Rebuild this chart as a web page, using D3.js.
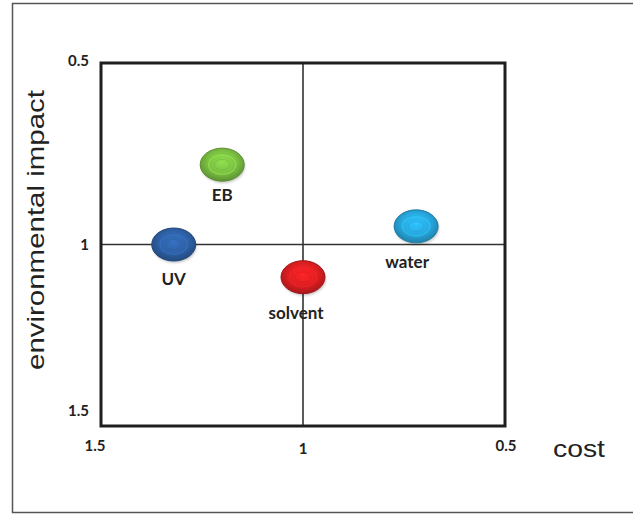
<!DOCTYPE html>
<html>
<head>
<meta charset="utf-8">
<script src="https://cdn.jsdelivr.net/npm/d3@7/dist/d3.min.js"></script>
<style>
  html, body { margin: 0; padding: 0; background: #fff; }
  svg { display: block; }
</style>
</head>
<body>
<div id="chart"></div>
<script>
// Technologies placed by cost (x, reversed) and environmental impact (y, reversed)
const technologies = ["EB", "UV", "solvent", "water"];
const costValues = [1.2, 1.32, 1.0, 0.72];
const impactValues = [0.78, 1.0, 1.09, 0.95];
const pointColors = ["#7cc243", "#2f62a8", "#e11f22", "#28aae1"];
const xTickValues = [1.5, 1, 0.5];
const yTickValues = [0.5, 1, 1.5];

const W = 633, H = 514;
const svg = d3.select("#chart").append("svg")
  .attr("width", W).attr("height", H);

// outer frame
svg.append("path")
  .attr("d", `M${W + 5},3.5 H12.5 V512.5 H${W + 5}`)
  .attr("fill", "none").attr("stroke", "#555").attr("stroke-width", 1.5);

const plot = { left: 101, right: 505, top: 63, bottom: 426 };

const x = d3.scaleLinear().domain([1.5, 0.5]).range([plot.left, plot.right]);
const y = d3.scaleLinear().domain([0.5, 1.5]).range([plot.top, plot.bottom]);

// gradients for the glossy markers
const defs = svg.append("defs");
pointColors.forEach((c, i) => {
  const base = d3.color(c);
  const g = defs.append("radialGradient")
    .attr("id", "grad" + i)
    .attr("cx", "50%").attr("cy", "42%").attr("r", "58%");
  g.append("stop").attr("offset", "0%").attr("stop-color", base.brighter(0.4));
  g.append("stop").attr("offset", "55%").attr("stop-color", base);
  g.append("stop").attr("offset", "100%").attr("stop-color", base.darker(0.8));
});
const blur = defs.append("filter").attr("id", "soft")
  .attr("x", "-20%").attr("y", "-20%").attr("width", "140%").attr("height", "140%");
blur.append("feGaussianBlur").attr("stdDeviation", 0.8);

// quadrant lines through (1, 1)
svg.append("line")
  .attr("x1", x(1)).attr("x2", x(1))
  .attr("y1", plot.top).attr("y2", plot.bottom)
  .attr("stroke", "#333").attr("stroke-width", 1.6);
svg.append("line")
  .attr("x1", plot.left).attr("x2", plot.right)
  .attr("y1", y(1)).attr("y2", y(1))
  .attr("stroke", "#333").attr("stroke-width", 1.6);

// plot box
svg.append("rect")
  .attr("x", plot.left).attr("y", plot.top)
  .attr("width", plot.right - plot.left).attr("height", plot.bottom - plot.top)
  .attr("fill", "none").attr("stroke", "#1e1e1e").attr("stroke-width", 3);

// tick labels
const tickFont = "Lato, 'Open Sans', sans-serif";
svg.append("g").selectAll("text")
  .data(yTickValues).join("text")
  .attr("x", 89)
  .attr("y", d => y(d) + (d === 1.5 ? -14 : d === 0.5 ? -1 : 2))
  .attr("text-anchor", "end")
  .attr("dominant-baseline", "middle")
  .attr("font-family", tickFont).attr("font-weight", "bold")
  .attr("font-size", 15).attr("fill", "#222")
  .text(d => d);

svg.append("g").selectAll("text")
  .data(xTickValues).join("text")
  .attr("x", d => x(d) + (d === 1.5 ? -6 : d === 0.5 ? 1 : 0))
  .attr("y", d => d === 1 ? 450 : 447)
  .attr("text-anchor", "middle")
  .attr("dominant-baseline", "middle")
  .attr("font-family", tickFont).attr("font-weight", "bold")
  .attr("font-size", 15).attr("fill", "#222")
  .text(d => d);

// axis titles
svg.append("text")
  .attr("x", 553).attr("y", 451)
  .attr("dominant-baseline", "middle")
  .attr("font-family", "'Liberation Sans', Arial, sans-serif")
  .attr("font-size", 24).attr("fill", "#222")
  .attr("textLength", 52).attr("lengthAdjust", "spacingAndGlyphs")
  .text("cost");

svg.append("text")
  .attr("transform", "translate(38,230) rotate(-90)")
  .attr("x", -140)
  .attr("dominant-baseline", "middle")
  .attr("font-family", "'Liberation Sans', Arial, sans-serif")
  .attr("font-size", 24).attr("fill", "#222")
  .attr("textLength", 280).attr("lengthAdjust", "spacingAndGlyphs")
  .text("environmental impact");

// markers
const data = technologies.map((t, i) => ({
  name: t, cost: costValues[i], impact: impactValues[i], i
}));
const rx = 22, ry = 16.5;
const mk = svg.append("g").selectAll("g").data(data).join("g")
  .attr("transform", d => `translate(${x(d.cost)},${y(d.impact)})`);

mk.append("ellipse")
  .attr("cx", 1).attr("cy", 2).attr("rx", rx).attr("ry", ry)
  .attr("fill", "#000").attr("opacity", 0.2).attr("filter", "url(#soft)");
mk.append("ellipse")
  .attr("rx", rx).attr("ry", ry)
  .attr("fill", d => `url(#grad${d.i})`)
  .attr("stroke", d => d3.color(pointColors[d.i]).darker(0.9))
  .attr("stroke-width", 1);
mk.append("ellipse")
  .attr("rx", rx * 0.62).attr("ry", ry * 0.58).attr("cy", 0)
  .attr("fill", "none")
  .attr("stroke", d => d3.color(pointColors[d.i]).brighter(0.6))
  .attr("stroke-opacity", 0.55).attr("stroke-width", 1.2);
mk.append("ellipse")
  .attr("rx", rx * 0.36).attr("ry", ry * 0.32).attr("cy", 0)
  .attr("fill", "none")
  .attr("stroke", d => d3.color(pointColors[d.i]).darker(0.3))
  .attr("stroke-opacity", 0.45).attr("stroke-width", 1);

// labels under markers
const labelOffsets = { EB: [0, 32], UV: [0, 36], solvent: [-7, 37], water: [-9, 37] };
mk.append("text")
  .attr("x", d => labelOffsets[d.name][0])
  .attr("y", d => labelOffsets[d.name][1])
  .attr("text-anchor", "middle").attr("dominant-baseline", "middle")
  .attr("font-family", tickFont).attr("font-weight", "bold")
  .attr("font-size", 17).attr("fill", "#222")
  .text(d => d.name);
</script>
</body>
</html>
